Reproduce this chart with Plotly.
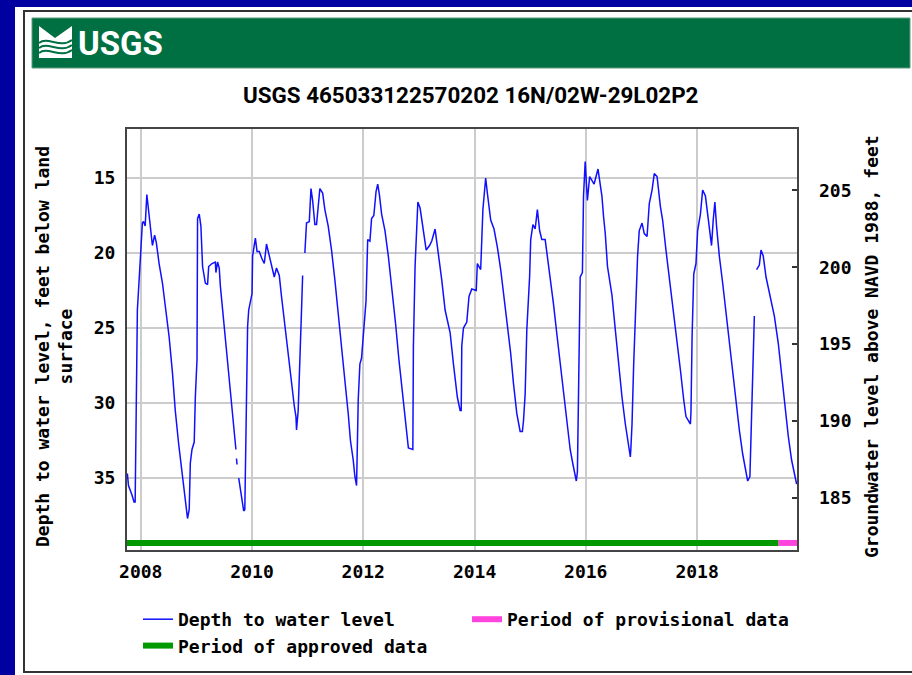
import plotly.graph_objects as go
from datetime import datetime

# ---------------- data ----------------
# decimal year of each reading, None marks a gap in the record
YEARS = [
    2007.76, 2007.78, 2007.84, 2007.88, 2007.90, 2007.92, 2007.94, 2007.97, 2008.00, 2008.03,
    2008.05, 2008.08, 2008.11, 2008.14, 2008.17, 2008.21, 2008.25, 2008.28, 2008.33, 2008.39,
    2008.45, 2008.51, 2008.57, 2008.62, 2008.68, 2008.72, 2008.77, 2008.81, 2008.84, 2008.87,
    2008.89, 2008.92, 2008.96, 2008.98, 2009.01, 2009.02, 2009.05, 2009.08, 2009.11, 2009.16,
    2009.20, 2009.22, 2009.28, 2009.34, 2009.35, 2009.38, 2009.41, 2009.43, 2009.47, 2009.53,
    2009.59, 2009.64, 2009.68, 2009.71, None, 2009.72, 2009.73, None, 2009.76, 2009.79,
    2009.82, 2009.85, 2009.87, 2009.89, 2009.92, 2009.94, 2010.00, 2010.01, 2010.06, 2010.09,
    2010.13, 2010.18, 2010.22, 2010.26, 2010.31, 2010.35, 2010.40, 2010.44, 2010.49, 2010.53,
    2010.59, 2010.65, 2010.71, 2010.76, 2010.79, 2010.80, 2010.83, 2010.86, 2010.89, 2010.91,
    None, 2010.95, 2010.98, 2011.03, 2011.06, 2011.09, 2011.13, 2011.16, 2011.19, 2011.22,
    2011.27, 2011.31, 2011.37, 2011.43, 2011.49, 2011.55, 2011.61, 2011.67, 2011.73, 2011.77,
    2011.82, 2011.85, 2011.88, 2011.91, 2011.94, 2011.97, 2012.05, 2012.08, 2012.12, 2012.15,
    2012.19, 2012.23, 2012.26, 2012.29, 2012.33, 2012.39, 2012.45, 2012.51, 2012.58, 2012.64,
    2012.71, 2012.76, 2012.81, 2012.89, 2012.90, 2012.93, 2012.98, 2013.02, 2013.07, 2013.13,
    2013.19, 2013.23, 2013.29, 2013.35, 2013.41, 2013.47, 2013.56, 2013.62, 2013.66, 2013.69,
    2013.74, 2013.76, 2013.77, 2013.80, 2013.86, 2013.90, 2013.95, 2014.03, 2014.05, 2014.11,
    2014.15, 2014.20, 2014.23, 2014.29, 2014.35, 2014.41, 2014.47, 2014.53, 2014.59, 2014.65,
    2014.70, 2014.76, 2014.82, 2014.86, 2014.88, 2014.91, 2014.94, 2014.97, 2014.99, 2015.01,
    2015.05, 2015.09, 2015.13, 2015.17, 2015.21, 2015.27, 2015.31, 2015.36, 2015.42, 2015.48,
    2015.54, 2015.60, 2015.66, 2015.72, 2015.77, 2015.83, 2015.85, 2015.87, 2015.90, 2015.94,
    2015.96, 2015.99, 2016.03, 2016.07, 2016.11, 2016.15, 2016.22, 2016.29, 2016.32, 2016.35,
    2016.39, 2016.47, 2016.53, 2016.59, 2016.65, 2016.71, 2016.77, 2016.80, 2016.81, 2016.83,
    2016.86, 2016.89, 2016.93, 2016.96, 2017.01, 2017.05, 2017.10, 2017.14, 2017.19, 2017.23,
    2017.28, 2017.34, 2017.38, 2017.44, 2017.50, 2017.56, 2017.62, 2017.70, 2017.76, 2017.80,
    2017.88, 2017.89, 2017.91, 2017.94, 2017.98, 2018.01, 2018.06, 2018.10, 2018.15, 2018.19,
    2018.23, 2018.26, 2018.29, 2018.32, 2018.35, 2018.40, 2018.46, 2018.52, 2018.58, 2018.64,
    2018.70, 2018.76, 2018.82, 2018.88, 2018.91, 2018.95, 2018.98, 2019.01, 2019.03, None,
    2019.07, 2019.12, 2019.15, 2019.19, 2019.24, 2019.31, 2019.39, 2019.46, 2019.52, 2019.58,
    2019.64, 2019.70, 2019.79,
]
# depth to water level, feet below land surface
DEPTH = [
    34.7, 35.5, 36.1, 36.6, 36.6, 28.4, 23.8, 21.9, 19.5, 18.0,
    17.9, 18.2, 16.1, 17.0, 18.2, 19.5, 18.8, 19.3, 20.7, 22.0,
    23.8, 25.6, 28.0, 30.5, 32.7, 34.0, 35.8, 37.1, 37.7, 37.1,
    34.0, 33.1, 32.6, 29.6, 27.1, 17.7, 17.4, 18.2, 20.9, 22.0,
    22.1, 20.9, 20.7, 20.6, 21.3, 20.6, 21.0, 22.2, 23.8, 26.0,
    28.2, 30.2, 31.8, 33.1, None, 33.7, 34.1, None, 35.0, 35.8,
    36.5, 37.2, 37.1, 31.1, 24.9, 23.8, 22.7, 20.2, 19.0, 19.9,
    19.9, 20.4, 20.7, 19.4, 20.2, 20.9, 21.6, 21.0, 21.5, 22.9,
    24.9, 26.7, 28.5, 30.2, 30.9, 31.8, 30.5, 26.2, 23.8, 21.5,
    None, 20.0, 18.0, 17.9, 15.7, 16.5, 18.1, 18.1, 16.9, 15.7,
    16.0, 17.1, 18.2, 19.8, 21.8, 24.2, 26.2, 28.5, 30.7, 32.5,
    33.8, 34.9, 35.5, 29.8, 27.4, 27.0, 23.2, 19.1, 19.2, 17.7,
    17.5, 15.9, 15.4, 16.1, 17.4, 18.5, 20.2, 22.2, 24.7, 27.1,
    29.4, 31.4, 33.0, 33.1, 26.2, 20.9, 16.6, 17.0, 18.2, 19.8,
    19.5, 19.2, 18.4, 20.0, 21.8, 23.8, 25.3, 27.4, 28.7, 29.6,
    30.5, 30.5, 26.2, 25.0, 24.6, 22.9, 22.4, 22.5, 20.7, 21.1,
    17.1, 15.0, 16.0, 17.8, 18.4, 19.6, 21.1, 22.9, 24.7, 26.7,
    28.7, 30.7, 31.9, 31.9, 31.2, 29.4, 25.1, 23.4, 21.6, 19.1,
    18.1, 18.4, 17.1, 18.5, 19.1, 19.1, 20.2, 21.6, 23.4, 25.4,
    27.4, 29.4, 31.4, 33.1, 34.1, 35.2, 34.6, 29.4, 21.6, 21.3,
    16.2, 13.9, 16.5, 14.9, 15.2, 15.4, 14.4, 16.2, 17.6, 18.7,
    20.9, 22.8, 25.1, 27.4, 29.6, 31.4, 32.9, 33.6, 33.0, 31.4,
    27.4, 24.0, 20.2, 18.5, 18.0, 18.7, 18.9, 16.7, 15.8, 14.7,
    14.9, 16.9, 17.8, 19.8, 21.6, 23.6, 25.6, 27.8, 29.8, 30.9,
    31.4, 30.6, 25.6, 21.4, 20.7, 18.5, 17.4, 15.8, 16.2, 17.4,
    18.5, 19.5, 17.8, 16.6, 18.2, 20.2, 22.0, 24.0, 26.0, 28.0,
    30.0, 31.8, 33.4, 34.7, 35.2, 34.9, 30.2, 25.6, 24.2, None,
    21.1, 20.8, 19.8, 20.2, 21.6, 22.9, 24.2, 26.0, 28.2, 30.2,
    32.2, 33.8, 35.4,
]
APPROVED_PERIOD = ["2007-10-03", "2019-06-18"]
PROVISIONAL_PERIOD = ["2019-06-18", "2019-10-19"]
X_RANGE = ["2007-10-03", "2019-10-19"]
X_TICK_YEARS = [2008, 2010, 2012, 2014, 2016, 2018]
LEFT_TICKS = [15, 20, 25, 30, 35]
RIGHT_TICKS = [185, 190, 195, 200, 205]
TITLE = "USGS 465033122570202 16N/02W-29L02P2"
LEFT_LABEL = "Depth to water level, feet below land<br>surface"
RIGHT_LABEL = "Groundwater level above NAVD 1988, feet"


def to_date(f):
    if f is None:
        return None
    y = int(f)
    start, nxt = datetime(y, 1, 1), datetime(y + 1, 1, 1)
    return start + (nxt - start) * (f - y)


dates = [to_date(v) for v in YEARS]

# ---------------- layout geometry (pixels) ----------------
W, H = 912, 675
L, R, T, B = 127, 115, 129, 125
PW, PH = W - L - R, H - T - B


def PX(px):
    return (px - L) / PW


def PY(py):
    return (H - B - py) / PH


MONO = "DejaVu Sans Mono, Liberation Mono, monospace"
HEAD = "Roboto, Liberation Sans, Arial, sans-serif"
FS = 18
BAR_LEVEL = 39.33

fig = go.Figure()
fig.add_trace(go.Scatter(
    x=dates, y=DEPTH, mode="lines", name="Depth to water level",
    line=dict(color="#1010FF", width=1.5), connectgaps=False,
))
fig.add_trace(go.Scatter(
    x=PROVISIONAL_PERIOD, y=[BAR_LEVEL, BAR_LEVEL], mode="lines",
    name="Period of provisional data", line=dict(color="#FF44DD", width=6),
))
fig.add_trace(go.Scatter(
    x=APPROVED_PERIOD, y=[BAR_LEVEL, BAR_LEVEL], mode="lines",
    name="Period of approved data", line=dict(color="#009900", width=6),
))
# carrier for the right-hand axis
fig.add_trace(go.Scatter(
    x=[X_RANGE[0]], y=[RIGHT_TICKS[0]], yaxis="y2", mode="markers",
    marker=dict(opacity=0), showlegend=False, hoverinfo="skip",
))

shapes = [
    # white panel and its border
    dict(type="rect", xref="paper", yref="paper", layer="below",
         x0=PX(15), x1=PX(930), y0=PY(700), y1=PY(7),
         fillcolor="white", line=dict(width=0)),
    dict(type="rect", xref="paper", yref="paper", layer="below",
         x0=PX(24), x1=PX(930), y0=PY(672), y1=PY(11),
         fillcolor="white", line=dict(color="#333333", width=2)),
    # green header bar
    dict(type="rect", xref="paper", yref="paper", layer="below",
         x0=PX(32), x1=PX(910), y0=PY(68), y1=PY(18),
         fillcolor="#006F41", line=dict(color="#5c9c7c", width=1)),
    # logo block
    dict(type="path", xref="paper", yref="paper", layer="below",
         path=(f"M {PX(39)} {PY(26)} L {PX(55)} {PY(38)} L {PX(72)} {PY(26)} "
               f"L {PX(72)} {PY(58)} L {PX(39)} {PY(58)} Z"),
         fillcolor="white", line=dict(width=0)),
]
for yy in (43, 48, 53):
    shapes.append(dict(
        type="path", xref="paper", yref="paper", layer="below",
        path=(f"M {PX(39)} {PY(yy)} C {PX(48)} {PY(yy - 7)}, {PX(60)} {PY(yy + 6)}, "
              f"{PX(72)} {PY(yy - 3)}"),
        line=dict(color="#006F41", width=2)))

annotations = [
    dict(text="USGS", xref="paper", yref="paper", x=PX(76), y=PY(43),
         xanchor="left", yanchor="middle", showarrow=False,
         font=dict(family=HEAD, size=33, color="white", weight="bold")),
    dict(text=TITLE, xref="paper", yref="paper", x=PX(470), y=PY(95),
         xanchor="center", yanchor="middle", showarrow=False,
         font=dict(family=HEAD, size=22.4, color="black", weight="bold")),
    dict(text=LEFT_LABEL, xref="paper", yref="paper", x=PX(54), y=PY(347),
         xanchor="center", yanchor="middle", showarrow=False, textangle=-90,
         align="center",
         font=dict(family=MONO, size=FS, color="black", weight="bold")),
    dict(text=RIGHT_LABEL, xref="paper", yref="paper", x=PX(871), y=PY(347),
         xanchor="center", yanchor="middle", showarrow=False, textangle=-90,
         font=dict(family=MONO, size=FS, color="black", weight="bold")),
]

tickfont = dict(family=MONO, size=FS, color="black", weight="bold")

fig.update_layout(
    width=W, height=H,
    margin=dict(l=L, r=R, t=T, b=B, autoexpand=False),
    paper_bgcolor="#0000A0", plot_bgcolor="white",
    shapes=shapes, annotations=annotations,
    xaxis=dict(
        type="date", range=X_RANGE,
        tickvals=[datetime(y, 1, 1) for y in X_TICK_YEARS],
        ticktext=[str(y) for y in X_TICK_YEARS],
        showgrid=True, gridcolor="#cccccc", gridwidth=1.5,
        showline=True, mirror=True, linecolor="#444444", linewidth=2,
        ticks="", tickfont=tickfont, ticklabelstandoff=4, zeroline=False,
    ),
    yaxis=dict(
        range=[39.8, 11.73], tickvals=LEFT_TICKS,
        showgrid=True, gridcolor="#cccccc", gridwidth=1.5,
        showline=True, mirror=True, linecolor="#444444", linewidth=2,
        ticks="", tickfont=tickfont, ticklabelstandoff=6, zeroline=False,
    ),
    yaxis2=dict(
        range=[181.6, 209.0], tickvals=RIGHT_TICKS, overlaying="y", side="right",
        showgrid=False, zeroline=False, showline=False,
        ticks="inside", ticklen=5, tickwidth=1.5, tickcolor="#333333",
        tickfont=tickfont, ticklabelstandoff=21,
    ),
    legend=dict(
        orientation="h", x=PX(138), y=PY(601), xanchor="left", yanchor="top",
        entrywidth=284, entrywidthmode="pixels", bgcolor="rgba(0,0,0,0)",
        font=dict(family=MONO, size=FS, color="black", weight="bold"),
        itemwidth=30, tracegroupgap=0,
    ),
    showlegend=True,
)

fig.write_html("out.html", config={"displayModeBar": False},
               post_script="document.body.style.margin='0';")
